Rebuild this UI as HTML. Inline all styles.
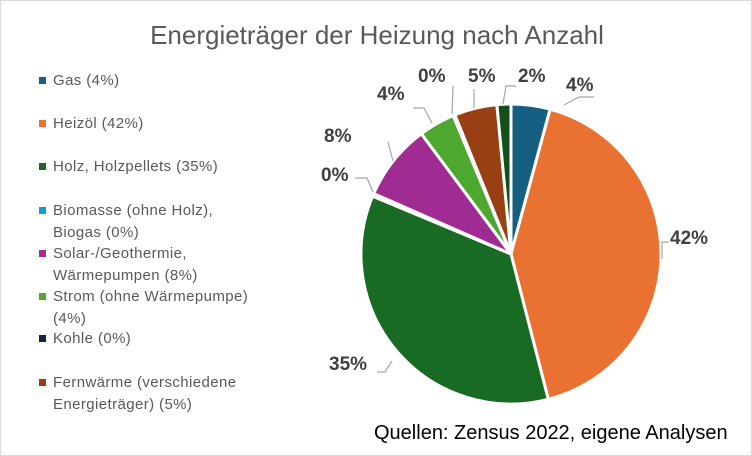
<!DOCTYPE html>
<html><head><meta charset="utf-8"><style>
body{margin:0;background:#fff}
#c{position:relative;width:750px;height:454px;border:1px solid #d9d9d9;font-family:"Liberation Sans",sans-serif;overflow:hidden}
.t{position:absolute;left:0;width:752px;top:19px;text-align:center;font-size:26px;color:#595959}
.lg{position:absolute;left:52px;font-size:15px;letter-spacing:0.4px;color:#595959;line-height:22px}
.mk{position:absolute;left:38px;width:7px;height:7px}
.src{position:absolute;left:373px;top:421px;font-size:20px;color:#000}
</style></head><body><div id="c">
<div class="t">Energieträger der Heizung nach Anzahl</div>
<div class="mk" style="top:76px;background:#156082"></div><div class="lg" style="top:69px">Gas (4%)</div>
<div class="mk" style="top:119px;background:#e97132"></div><div class="lg" style="top:112px">Heizöl (42%)</div>
<div class="mk" style="top:162px;background:#196b24"></div><div class="lg" style="top:155px">Holz, Holzpellets (35%)</div>
<div class="mk" style="top:206px;background:#0f9ed5"></div><div class="lg" style="top:199px">Biomasse (ohne Holz),<br>Biogas (0%)</div>
<div class="mk" style="top:249px;background:#a02b93"></div><div class="lg" style="top:242px">Solar-/Geothermie,<br>Wärmepumpen (8%)</div>
<div class="mk" style="top:292px;background:#4ea72e"></div><div class="lg" style="top:285px">Strom (ohne Wärmepumpe)<br>(4%)</div>
<div class="mk" style="top:334px;background:#0e2841"></div><div class="lg" style="top:327px">Kohle (0%)</div>
<div class="mk" style="top:378px;background:#984013"></div><div class="lg" style="top:371px">Fernwärme (verschiedene<br>Energieträger) (5%)</div>
<svg id="s" width="752" height="456" style="position:absolute;left:0;top:0">
<g fill="none" stroke="#a6a6a6" stroke-width="1.2">
<polyline points="563,104 578,96 593,96"/>
<polyline points="502,103 505,85 515,85"/>
<polyline points="473,107 473,88"/>
<polyline points="451,113 452,85"/>
<polyline points="431,122 423,107 412,107"/>
<polyline points="392,160 387,141"/>
<polyline points="372,191 366,177 354,177"/>
<polyline points="661,258 661,241 668,241"/>
<polyline points="391,360 384,371 376,371"/>
</g>
<g font-family="Liberation Sans,sans-serif" font-weight="bold" font-size="19" fill="#404040">
<text x="565" y="90">4%</text>
<text x="517" y="81">2%</text>
<text x="467" y="81">5%</text>
<text x="417" y="81">0%</text>
<text x="376" y="99">4%</text>
<text x="323" y="141">8%</text>
<text x="320" y="180">0%</text>
<text x="669" y="243">42%</text>
<text x="328" y="369">35%</text>
</g>
</svg>
<div class="src">Quellen: Zensus 2022, eigene Analysen</div>
</div>
<script>
var v=[[4.2,"#156082"],[41.8,"#e97132"],[35.3,"#196b24"],[0.3,"#0f9ed5"],[8.2,"#a02b93"],[3.9,"#4ea72e"],[0.2,"#0e2841"],[4.6,"#984013"],[1.5,"#124f1a"]];
var cx=510,cy=253,r=150,a=0,s=document.getElementById('s'),h='';
v.forEach(function(d){var a2=a+d[0]/100*2*Math.PI;
var x1=cx+r*Math.sin(a),y1=cy-r*Math.cos(a),x2=cx+r*Math.sin(a2),y2=cy-r*Math.cos(a2);
h+='<path d="M'+cx+','+cy+'L'+x1+','+y1+'A'+r+','+r+' 0 '+(a2-a>Math.PI?1:0)+' 1 '+x2+','+y2+'Z" fill="'+d[1]+'" stroke="#fff" stroke-width="3" stroke-linejoin="round"/>';a=a2;});
s.insertAdjacentHTML('afterbegin',h);
</script>
</body></html>
